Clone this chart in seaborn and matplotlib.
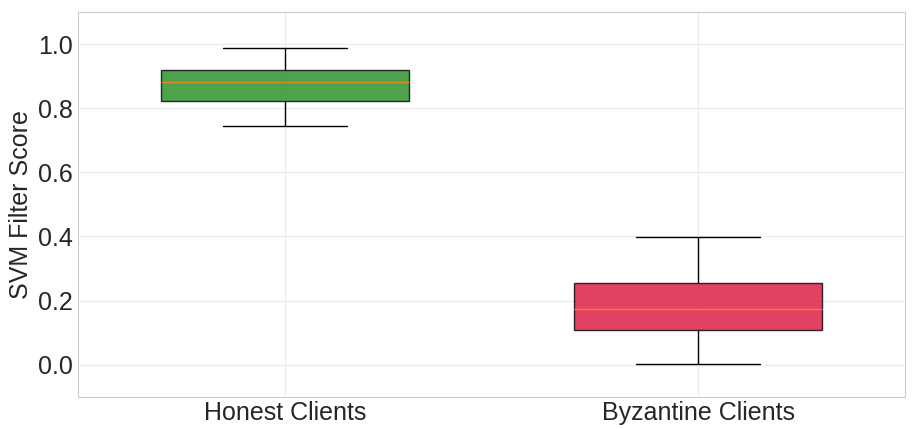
import pandas as pd
import matplotlib.pyplot as plt
import seaborn as sns

# Valores: mín, Q1, mediana, Q3, máx
grupos = ['Honest Clients', 'Byzantine Clients']
honest_scores = [0.746, 0.824, 0.882, 0.920, 0.988]
byzantine_scores = [0.003, 0.108, 0.173, 0.254, 0.399]
cores = ['forestgreen', 'crimson']

df = pd.DataFrame({
    'grupo': [grupos[0]] * len(honest_scores) + [grupos[1]] * len(byzantine_scores),
    'score': honest_scores + byzantine_scores,
})

sns.set_style('whitegrid')
plt.rcParams['font.family'] = ['Liberation Sans', 'DejaVu Sans']

fig, ax = plt.subplots(figsize=(9.18, 4.29), dpi=100)

sns.boxplot(
    data=df, x='grupo', y='score', hue='grupo', palette=cores,
    width=0.6, whis=1.5, legend=False, ax=ax, saturation=1,
    boxprops=dict(edgecolor='black', alpha=0.8, linewidth=1),
    whiskerprops=dict(color='black', linewidth=1),
    capprops=dict(color='black', linewidth=1),
    medianprops=dict(color='#e0891f', linewidth=1),
    showfliers=False,
)
ax.set_ylim(-0.1, 1.1)
ax.set_xlabel('')
ax.set_ylabel('SVM Filter Score', fontsize=18, labelpad=3)
ax.tick_params(axis='both', labelsize=18, length=0)
ax.tick_params(axis='y', pad=4)
ax.tick_params(axis='x', pad=3)
ax.grid(True, color='#ebebeb', linewidth=0.8)
for s in ax.spines.values():
    s.set_visible(True)
    s.set_color('#cccccc')

plt.subplots_adjust(left=0.085, right=0.986, top=0.972, bottom=0.075)
plt.savefig('out.png', dpi=100)
